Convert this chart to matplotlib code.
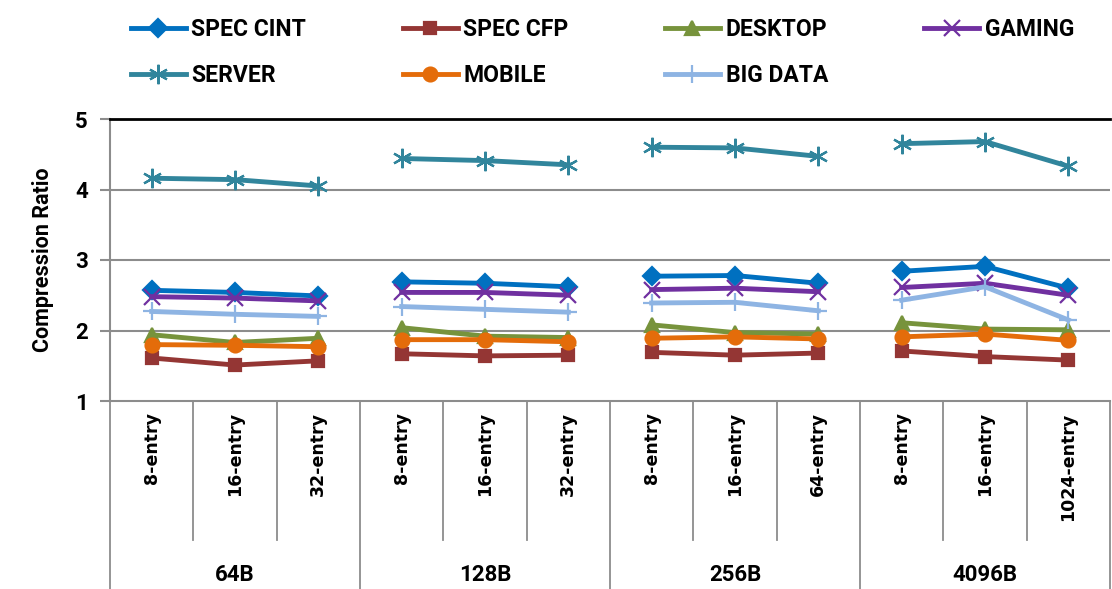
import matplotlib.pyplot as plt

# x-axis categories
groups = ['64B', '128B', '256B', '4096B']
entries = ['8-entry', '16-entry', '32-entry',
           '8-entry', '16-entry', '32-entry',
           '8-entry', '16-entry', '64-entry',
           '8-entry', '16-entry', '1024-entry']

# series values (compression ratio)
spec_cint = [2.57, 2.54, 2.49, 2.69, 2.67, 2.62, 2.77, 2.78, 2.67, 2.84, 2.91, 2.60]
spec_cfp = [1.61, 1.51, 1.57, 1.67, 1.64, 1.65, 1.69, 1.65, 1.68, 1.71, 1.63, 1.58]
desktop = [1.94, 1.83, 1.89, 2.04, 1.92, 1.90, 2.08, 1.97, 1.95, 2.11, 2.02, 2.01]
gaming = [2.48, 2.46, 2.42, 2.54, 2.54, 2.50, 2.58, 2.60, 2.55, 2.61, 2.67, 2.50]
server = [4.16, 4.14, 4.05, 4.44, 4.41, 4.35, 4.60, 4.59, 4.47, 4.65, 4.68, 4.33]
mobile = [1.80, 1.79, 1.77, 1.87, 1.87, 1.84, 1.89, 1.91, 1.88, 1.91, 1.95, 1.86]
big_data = [2.27, 2.23, 2.20, 2.34, 2.30, 2.26, 2.39, 2.40, 2.28, 2.43, 2.62, 2.15]

series = [
    ('SPEC CINT', spec_cint, '#0070C0', 'D', 9),
    ('SPEC CFP', spec_cfp, '#943634', 's', 9),
    ('DESKTOP', desktop, '#77933C', '^', 10),
    ('GAMING', gaming, '#7030A0', 'x', 11),
    ('SERVER', server, '#31859C', (6, 2, 0), 14),
    ('MOBILE', mobile, '#E46C0A', 'o', 10),
    ('BIG DATA', big_data, '#8EB4E3', '+', 13),
]

narrow = ['Roboto', 'DejaVu Sans']

fig = plt.figure(figsize=(11.12, 5.89), dpi=100)
ax = fig.add_axes([110 / 1112, 1 - 401 / 589, 1000 / 1112, 282 / 589])

handles = []
for name, vals, color, marker, ms in series:
    for g in range(len(groups)):
        xs = list(range(3 * g, 3 * g + 3))
        ys = vals[3 * g:3 * g + 3]
        line, = ax.plot(xs, ys, color=color, lw=3.5, marker=marker, ms=ms,
                        mew=1.6, label=name if g == 0 else None, zorder=3)
        if g == 0:
            handles.append(line)

ax.set_xlim(-0.5, 11.5)
ax.set_ylim(1, 5)
ax.set_yticks([1, 2, 3, 4, 5])
ax.set_yticklabels(['1', '2', '3', '4', '5'], fontsize=16, fontweight='bold',
                   family=narrow)
ax.tick_params(axis='y', length=7, width=1.5, color='#8c8c8c', pad=9)
ax.set_xticks([])
for y in [2, 3, 4]:
    ax.axhline(y, color='#8c8c8c', lw=1.5, zorder=1)
ax.spines['right'].set_visible(False)
ax.spines['top'].set_color('black')
ax.spines['top'].set_linewidth(2)
ax.spines['left'].set_color('#8c8c8c')
ax.spines['left'].set_linewidth(1.5)
ax.spines['bottom'].set_color('#8c8c8c')
ax.spines['bottom'].set_linewidth(1.5)

ax.set_ylabel('Compression Ratio', fontsize=15.5, fontweight='bold', family=narrow,
              labelpad=15)

# multi-level category axis
trans = ax.get_xaxis_transform()
for i, lab in enumerate(entries):
    ax.text(i, -0.04, lab, rotation=90, ha='center', va='top', transform=trans,
            fontsize=12.5, fontweight='bold', family='DejaVu Sans')
for b in range(13):
    x = b - 0.5
    y_end = -0.667 if b % 3 == 0 else -0.493
    ax.plot([x, x], [0, y_end], transform=trans, color='#8c8c8c', lw=1.3,
            clip_on=False)
for g, lab in enumerate(groups):
    ax.text(3 * g + 1, -0.617, lab, ha='center', va='center', transform=trans,
            fontsize=16, fontweight='bold', family=narrow)

order = [0, 4, 1, 5, 2, 6, 3]
fig.legend([handles[i] for i in order], [series[i][0] for i in order],
           ncol=4, loc='upper left', bbox_to_anchor=(0.099, 1.005),
           frameon=False, handlelength=2.4, handletextpad=0.25,
           columnspacing=4.2, labelspacing=1.0,
           prop={'family': narrow, 'weight': 'bold', 'size': 16.5})

fig.savefig('out.png', dpi=100)
